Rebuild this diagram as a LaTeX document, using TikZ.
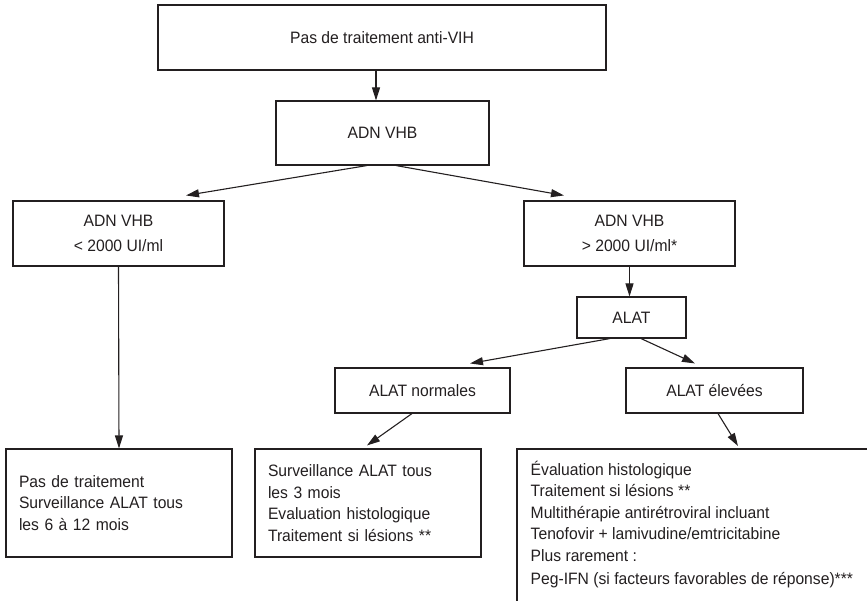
\documentclass[tikz,border=0pt]{standalone}
\usepackage{fontspec}
\setmainfont[FakeStretch=0.95]{Liberation Sans}
\usetikzlibrary{arrows.meta}
\definecolor{ink}{RGB}{35,31,32}
\begin{document}
\begin{tikzpicture}[x=1pt,y=-1pt,
  txt/.style={font=\fontsize{16.5}{21.5}\selectfont, text=ink},
  box/.style={txt, draw=ink, line width=1.1pt, rectangle, inner sep=0pt, align=center},
  lbox/.style={txt, draw=ink, line width=1.1pt, rectangle, inner xsep=13pt, inner ysep=0pt, align=left},
  arr/.style={draw=ink, line width=1.1pt, -{Triangle[length=13pt,width=8pt]}},
  ln/.style={draw=ink, line width=1.1pt}]
\useasboundingbox (0,0) rectangle (867,601);

\node[box, minimum width=448, minimum height=65] (top) at (382,37.5) {Pas de traitement anti-VIH};
\node[box, minimum width=213, minimum height=64] (adn) at (382.5,133) {ADN VHB};
\node[box, minimum width=211, minimum height=65] (left) at (118.5,233.5) {ADN VHB\\[3.5pt]\textless{} 2000 UI/ml};
\node[box, minimum width=211, minimum height=65] (right) at (629.5,233.5) {ADN VHB\\[3.5pt]\textgreater{} 2000 UI/ml*};
\node[box, minimum width=109, minimum height=41] (alat) at (631.5,317.5) {ALAT};
\node[box, minimum width=175, minimum height=45] (norm) at (422.5,390.5) {ALAT normales};
\node[box, minimum width=177, minimum height=45] (elev) at (714.5,390.5) {ALAT élevées};

\node[lbox, text width=200pt, minimum height=108] (bl) at (119,503)
  {Pas de traitement\\Surveillance ALAT tous\\les 6 à 12 mois};
\node[lbox, text width=200pt, minimum height=108] (mid) at (368,503)
  {Surveillance ALAT tous\\les 3 mois\\Evaluation histologique\\Traitement si lésions **};
\node[txt, align=left, anchor=north west, inner xsep=13.5pt, inner ysep=0pt,
  minimum height=151] (br) at (517,449)
  {Évaluation histologique\\Traitement si lésions **\\Multithérapie antirétroviral incluant\\Tenofovir + lamivudine/emtricitabine\\Plus rarement :\\[2pt]Peg-IFN (si facteurs favorables de réponse)***};
\coordinate (brb) at (517,601);
\coordinate (brr) at (867,449);
\draw[ln] (brb) -- (br.north west) -- (brr);

\draw[arr] ([xshift=-6pt]top.south) -- ([xshift=-6.5pt]adn.north);
\draw[arr] ([xshift=-15.5pt]adn.south) -- ([xshift=67.5pt,yshift=5pt]left.north);
\draw[arr] ([xshift=13.5pt]adn.south) -- ([xshift=-65.5pt,yshift=5pt]right.north);
\draw[arr] (left.south) -- (bl.north);
\draw[arr] (right.south) -- (right.south |- alat.north);
\draw[arr] ([xshift=-21.5pt]alat.south) -- ([xshift=47.5pt,yshift=4pt]norm.north);
\draw[arr] ([xshift=9.5pt]alat.south) -- ([xshift=-19.5pt,yshift=4pt]elev.north);
\draw[arr] ([xshift=-10.5pt]norm.south) -- ([xshift=-1pt,yshift=3pt]mid.north);
\draw[arr] ([xshift=3.5pt]elev.south) -- ([xshift=221pt,yshift=3pt]br.north west);
\end{tikzpicture}
\end{document}
